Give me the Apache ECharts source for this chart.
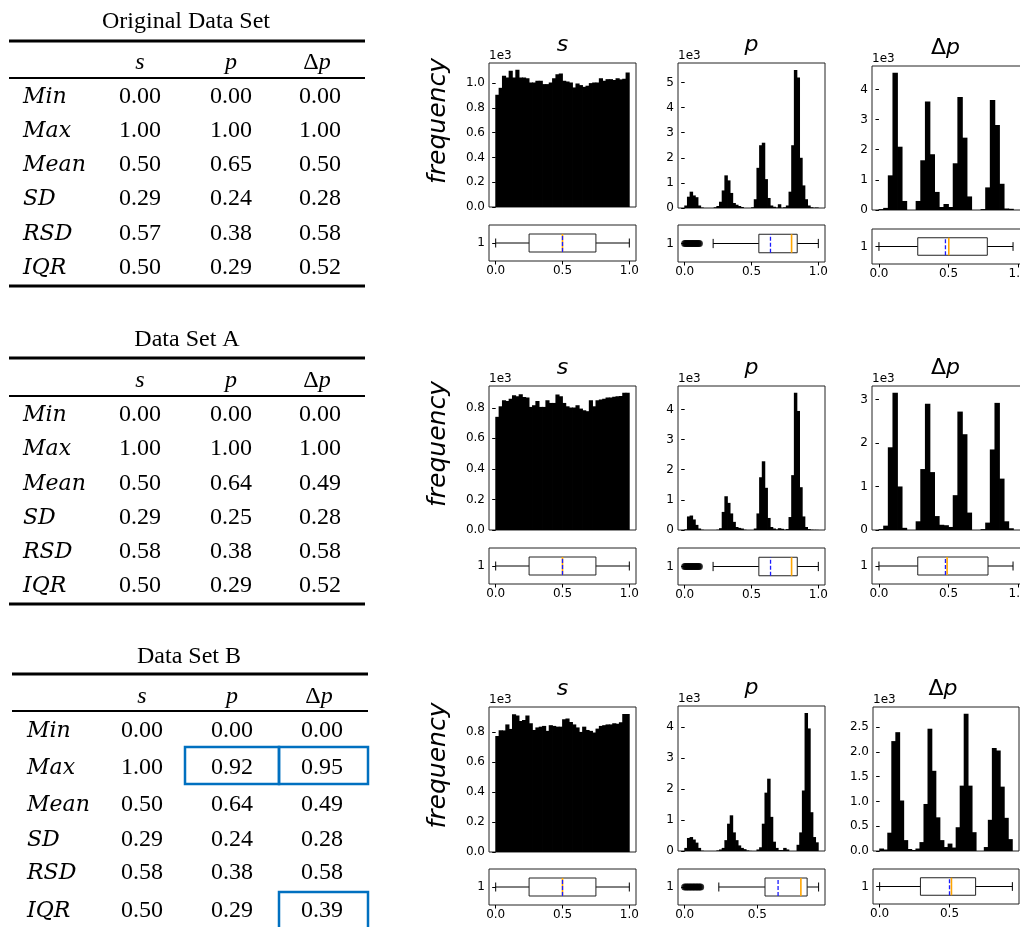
<!DOCTYPE html>
<html>
<head>
<meta charset="utf-8">
<script src="https://cdn.jsdelivr.net/npm/echarts@6/dist/echarts.min.js"></script>
<style>
  html, body { margin: 0; padding: 0; background: #fff; }
  #main { width: 1020px; height: 927px; }
</style>
</head>
<body>
<div id="main"></div>
<script>
// ---- histogram counts ----
// s : 40 bins over [0, 1]
var sOrig = [906, 962, 1059, 1046, 1099, 1046, 1107, 1046, 1046, 1040, 1005, 1005, 1019, 1019, 992, 992, 1005, 1040, 1072, 1078,
             1019, 1013, 1005, 965, 997, 984, 970, 979, 1000, 1005, 1005, 1040, 1019, 1032, 1032, 1025, 1040, 1030, 1035, 1086];
var sA = [741, 810, 850, 845, 860, 882, 876, 889, 871, 867, 806, 817, 845, 806, 806, 850, 832, 832, 887, 876,
          832, 810, 802, 802, 817, 795, 784, 778, 850, 810, 850, 854, 860, 867, 867, 872, 876, 878, 898, 898];
var sB = [773, 811, 810, 850, 820, 917, 910, 873, 880, 910, 857, 813, 830, 835, 840, 807, 845, 840, 835, 835,
          884, 890, 866, 850, 830, 800, 835, 813, 807, 796, 822, 840, 845, 850, 850, 857, 855, 865, 920, 920];
// p : 50 bins
var pOrig = [100, 450, 650, 500, 430, 100, 20, 0, 0, 0, 0, 30, 80, 250, 700, 1300, 1100, 600, 200, 130,
             80, 40, 0, 0, 0, 30, 350, 1600, 2500, 2600, 1150, 400, 100, 50, 20, 150, 10, 30, 100, 650,
             2500, 5500, 5200, 2000, 900, 350, 100, 30, 10, 20];
var pA = [20, 450, 480, 350, 170, 50, 10, 0, 0, 0, 0, 0, 10, 60, 600, 1120, 900, 550, 270, 100,
          70, 50, 10, 0, 0, 0, 50, 550, 1750, 2280, 1400, 400, 100, 50, 20, 60, 40, 10, 30, 430,
          1820, 4550, 3950, 1420, 450, 100, 30, 10, 5, 5];
var pB = [100, 420, 450, 370, 270, 100, 10, 0, 0, 0, 0, 0, 20, 50, 100, 350, 880, 1150, 600, 350,
          180, 100, 60, 20, 5, 0, 0, 50, 120, 880, 1880, 2330, 1100, 300, 100, 30, 30, 100, 50, 0,
          0, 0, 200, 600, 1950, 4450, 3950, 1250, 450, 280];
// Δp : 30 bins (orig, A), 33 bins (B)
var dOrig = [30, 70, 1150, 4550, 2100, 300, 0, 0, 300, 1650, 3600, 1850, 600, 100, 200,
             100, 1550, 3750, 2400, 450, 0, 0, 30, 750, 3650, 2820, 870, 50, 40, 0];
var dA = [20, 100, 1900, 3150, 1000, 50, 0, 0, 200, 1400, 2900, 1330, 320, 120, 110,
          70, 800, 2720, 2200, 400, 0, 0, 20, 170, 1850, 2920, 1180, 200, 40, 0];
var dB = [50, 30, 370, 2220, 2400, 1020, 220, 40, 20, 50, 180, 950, 2470, 1620, 680, 220, 80,
          150, 70, 480, 1320, 2770, 1320, 380, 0, 0, 80, 630, 2080, 2030, 1300, 670, 240];

// histogram data range per panel
var rangeFull = [0, 1];
var rangePB = [0, 0.92];
var rangeDB = [0, 0.95];

// ---- box plots: [whisker low, q1, median, q3, whisker high], mean ----
var boxSOrig = [0, 0.25, 0.50, 0.75, 1.0], meanSOrig = 0.50;
var boxPOrig = [0.213, 0.555, 0.80, 0.842, 1.0], meanPOrig = 0.642;
var boxDOrig = [0, 0.279, 0.502, 0.779, 0.964], meanDOrig = 0.478;
var boxSA = [0, 0.25, 0.50, 0.75, 1.0], meanSA = 0.50;
var boxPA = [0.2125, 0.555, 0.80, 0.8425, 1.0], meanPA = 0.6425;
var boxDA = [0, 0.279, 0.490, 0.784, 0.964], meanDA = 0.478;
var boxSB = [0, 0.25, 0.50, 0.75, 1.0], meanSB = 0.50;
var boxPB = [0.235, 0.553, 0.80, 0.843, 0.922], meanPB = 0.643;
var boxDB = [0, 0.292, 0.514, 0.687, 0.95], meanDB = 0.50;
var fliersP = [0, 0.01, 0.02, 0.03, 0.04, 0.05, 0.06, 0.07, 0.08, 0.09, 0.10, 0.11];

// ---- tick labels ----
var ticksS1 = [0, 200, 400, 600, 800, 1000];
var ticksS2 = [0, 200, 400, 600, 800];
var ticksP1 = [0, 1000, 2000, 3000, 4000, 5000];
var ticksP2 = [0, 1000, 2000, 3000, 4000];
var ticksD1 = [0, 1000, 2000, 3000, 4000];
var ticksD2 = [0, 1000, 2000, 3000];
var ticksD3 = [0, 500, 1000, 1500, 2000, 2500];
var boxTicks = [0, 0.5, 1.0];

// ---- tables ----
var statNames = ['Min', 'Max', 'Mean', 'SD', 'RSD', 'IQR'];
var origS = [0.00, 1.00, 0.50, 0.29, 0.57, 0.50];
var origP = [0.00, 1.00, 0.65, 0.24, 0.38, 0.29];
var origD = [0.00, 1.00, 0.50, 0.28, 0.58, 0.52];
var setAS = [0.00, 1.00, 0.50, 0.29, 0.58, 0.50];
var setAP = [0.00, 1.00, 0.64, 0.25, 0.38, 0.29];
var setAD = [0.00, 1.00, 0.49, 0.28, 0.58, 0.52];
var setBS = [0.00, 1.00, 0.50, 0.29, 0.58, 0.50];
var setBP = [0.00, 0.92, 0.64, 0.24, 0.38, 0.29];
var setBD = [0.00, 0.95, 0.49, 0.28, 0.58, 0.39];

var panels = [
  { counts: sOrig, range: rangeFull, ticks: ticksS1, dec: 1, box: boxSOrig, mean: meanSOrig, title: 's',
    L: 489, W: 147, hT: 63, hB: 207, bT: 225, bB: 261 },
  { counts: pOrig, range: rangeFull, ticks: ticksP1, dec: 0, box: boxPOrig, mean: meanPOrig, fliers: fliersP, title: 'p',
    L: 678, W: 147, hT: 63, hB: 208, bT: 225, bB: 262 },
  { counts: dOrig, range: rangeFull, ticks: ticksD1, dec: 0, box: boxDOrig, mean: meanDOrig, title: 'Δp',
    L: 872, W: 153, hT: 66, hB: 210, bT: 229, bB: 264 },
  { counts: sA, range: rangeFull, ticks: ticksS2, dec: 1, box: boxSA, mean: meanSA, title: 's',
    L: 489, W: 147, hT: 386, hB: 530, bT: 548, bB: 584 },
  { counts: pA, range: rangeFull, ticks: ticksP2, dec: 0, box: boxPA, mean: meanPA, fliers: fliersP, title: 'p',
    L: 678, W: 147, hT: 386, hB: 530, bT: 548, bB: 585 },
  { counts: dA, range: rangeFull, ticks: ticksD2, dec: 0, box: boxDA, mean: meanDA, title: 'Δp',
    L: 872, W: 153, hT: 386, hB: 530, bT: 548, bB: 584 },
  { counts: sB, range: rangeFull, ticks: ticksS2, dec: 1, box: boxSB, mean: meanSB, title: 's',
    L: 489, W: 147, hT: 707, hB: 852, bT: 869, bB: 905 },
  { counts: pB, range: rangePB, ticks: ticksP2, dec: 0, box: boxPB, mean: meanPB, fliers: fliersP, title: 'p',
    L: 678, W: 147, hT: 706, hB: 851, bT: 869, bB: 905 },
  { counts: dB, range: rangeDB, ticks: ticksD3, dec: 1, box: boxDB, mean: meanDB, title: 'Δp',
    L: 873, W: 146, hT: 707, hB: 851, bT: 869, bB: 904 }
];

var tables = [
  { title: 'Original Data Set', cols: [origS, origP, origD], cx: 186, titleY: 22, x0: 9, x1: 365, topRule: 41,
    headY: 63, thinRule: 78, rowY: [97, 131, 165, 199, 234, 268], bottomRule: 286, labelX: 23, colX: [140, 231, 320] },
  { title: 'Data Set A', cols: [setAS, setAP, setAD], cx: 187, titleY: 340, x0: 9, x1: 365, topRule: 358,
    headY: 381, thinRule: 396, rowY: [415, 449, 484, 518, 552, 586], bottomRule: 604, labelX: 23, colX: [140, 231, 320] },
  { title: 'Data Set B', cols: [setBS, setBP, setBD], cx: 189, titleY: 657, x0: 12, x1: 368, topRule: 674,
    headY: 697, thinRule: 711, rowY: [731, 768, 805, 840, 873, 911], bottomRule: null, labelX: 27, colX: [142, 232, 322] }
];
// highlighted cells in Data Set B (blue frames)
var highlights = [[185, 747, 94, 37], [279, 747, 89, 37], [279, 892, 89, 40]];

var sans = 'DejaVu Sans';
var serif = 'Liberation Serif';
var chart = echarts.init(document.getElementById('main'), null, { renderer: 'canvas' });

function histItem(params, api) {
  var a = api.coord([api.value(0), api.value(2)]);
  var b = api.coord([api.value(1), 0]);
  // widen a little so neighbouring bars merge without hairline gaps
  return {
    type: 'rect',
    shape: { x: a[0] - 0.4, y: a[1], width: b[0] - a[0] + 0.8, height: b[1] - a[1] },
    style: { fill: '#000' }
  };
}

function boxItem(params, api) {
  var lo = api.value(0), q1 = api.value(1), med = api.value(2), q3 = api.value(3), hi = api.value(4), mean = api.value(5);
  function P(x, y) { return api.coord([x, y]); }
  function seg(x1, y1, x2, y2, color, lw, dash) {
    var a = P(x1, y1), b = P(x2, y2);
    return { type: 'line', shape: { x1: a[0], y1: a[1], x2: b[0], y2: b[1] },
      style: { stroke: color, lineWidth: lw, lineDash: dash || null } };
  }
  var tl = P(q1, 1.25), br = P(q3, 0.75);
  return {
    type: 'group',
    children: [
      seg(lo, 1, q1, 1, '#000', 1),
      seg(q3, 1, hi, 1, '#000', 1),
      seg(lo, 0.875, lo, 1.125, '#000', 1),
      seg(hi, 0.875, hi, 1.125, '#000', 1),
      { type: 'rect', shape: { x: tl[0], y: tl[1], width: br[0] - tl[0], height: br[1] - tl[1] },
        style: { fill: 'none', stroke: '#222', lineWidth: 1 } },
      seg(med, 0.75, med, 1.25, '#ffa500', 1.6),
      seg(mean, 0.75, mean, 1.25, '#1a1aff', 1.3, [4, 2])
    ]
  };
}

// Δ upright, p italic (math style)
function mathText(txt, size, family) {
  var up = size + 'px ' + family, it = 'italic ' + size + 'px ' + family;
  if (txt === 'Δp') return { text: '{u|Δ}{i|p}', rich: { u: { font: up }, i: { font: it } } };
  return { text: '{i|' + txt + '}', rich: { i: { font: it } } };
}

var grids = [], xAxes = [], yAxes = [], series = [], graphics = [];
var labelStyle = { color: '#000', fontFamily: sans, fontSize: 12 };

panels.forEach(function (pn, i) {
  var lo = pn.range[0], hi = pn.range[1], pad = 0.05 * (hi - lo);
  var xmin = lo - pad, xmax = hi + pad;
  var n = pn.counts.length, w = (hi - lo) / n;
  var ymax = 1.05 * Math.max.apply(null, pn.counts);
  var hg = 2 * i, bg = 2 * i + 1;
  var xt = boxTicks.filter(function (t) { return t <= xmax; });

  grids.push({ left: pn.L, top: pn.hT, width: pn.W, height: pn.hB - pn.hT, show: true, borderColor: '#222',
    borderWidth: 1, backgroundColor: 'transparent', containLabel: false, outerBoundsMode: 'none' });
  grids.push({ left: pn.L, top: pn.bT, width: pn.W, height: pn.bB - pn.bT, show: true, borderColor: '#222',
    borderWidth: 1, backgroundColor: 'transparent', containLabel: false, outerBoundsMode: 'none' });

  xAxes.push({ type: 'value', gridIndex: hg, min: xmin, max: xmax, axisLine: { show: false },
    axisTick: { show: false }, axisLabel: { show: false }, splitLine: { show: false } });
  xAxes.push({ type: 'value', gridIndex: bg, min: xmin, max: xmax, axisLine: { show: false },
    axisTick: { show: true, length: 3.5, lineStyle: { color: '#000' }, customValues: xt },
    axisLabel: Object.assign({ margin: 4, formatter: function (v) { return v.toFixed(1); }, customValues: xt }, labelStyle),
    splitLine: { show: false } });

  var dec = pn.dec;
  yAxes.push({ type: 'value', gridIndex: hg, min: 0, max: ymax, axisLine: { show: false },
    axisTick: { show: true, length: 3.5, lineStyle: { color: '#000' }, customValues: pn.ticks },
    axisLabel: Object.assign({ margin: 4, customValues: pn.ticks,
      formatter: function (v) { return (v / 1000).toFixed(dec); } }, labelStyle),
    splitLine: { show: false } });
  yAxes.push({ type: 'value', gridIndex: bg, min: 0.5, max: 1.5, axisLine: { show: false },
    axisTick: { show: true, length: 3.5, lineStyle: { color: '#000' }, customValues: [1] },
    axisLabel: Object.assign({ margin: 4, customValues: [1], formatter: '{value}' }, labelStyle),
    splitLine: { show: false } });

  var bins = [];
  pn.counts.forEach(function (c, k) {
    if (c > 0) bins.push([lo + k * w, lo + (k + 1) * w, c]);
  });
  series.push({ type: 'custom', xAxisIndex: hg, yAxisIndex: hg, renderItem: histItem,
    encode: { x: [0, 1], y: 2 }, data: bins, silent: true });

  if (pn.fliers) {
    series.push({ type: 'scatter', xAxisIndex: bg, yAxisIndex: bg, symbol: 'circle', symbolSize: 7,
      itemStyle: { color: '#000' }, silent: true,
      data: pn.fliers.map(function (f) { return [f, 1]; }) });
  }
  series.push({ type: 'custom', xAxisIndex: bg, yAxisIndex: bg, renderItem: boxItem,
    encode: { x: [0, 4], y: 6 }, silent: true,
    data: [pn.box.concat([pn.mean, 1])] });

  // panel title, offset text, y label
  graphics.push({ type: 'text', x: pn.L + pn.W / 2 + (pn.title === 'Δp' ? -3 : 0), y: pn.hT - 18,
    style: Object.assign({ fill: '#000', align: 'center', verticalAlign: 'middle' }, mathText(pn.title, 22, sans)) });
  graphics.push({ type: 'text', x: pn.L, y: pn.hT - 7,
    style: { text: '1e3', font: '12px ' + sans, fill: '#000', align: 'left', verticalAlign: 'middle' } });
  if (i % 3 === 0) {
    graphics.push({ type: 'text', x: 438, y: (pn.hT + pn.hB) / 2 - 14, rotation: Math.PI / 2,
      style: { text: 'frequency', font: 'italic 25px ' + sans, fill: '#000', align: 'center', verticalAlign: 'middle' } });
  }
});

// tables
var mathFont = 'italic 22px "DejaVu Serif"';
var colNames = ['s', 'p', 'Δp'];
tables.forEach(function (t) {
  graphics.push({ type: 'text', x: t.cx, y: t.titleY,
    style: { text: t.title, font: '24px "' + serif + '"', fill: '#000', align: 'center', verticalAlign: 'middle' } });
  graphics.push({ type: 'line', shape: { x1: t.x0, y1: t.topRule, x2: t.x1, y2: t.topRule }, style: { stroke: '#000', lineWidth: 3.2 } });
  graphics.push({ type: 'line', shape: { x1: t.x0, y1: t.thinRule, x2: t.x1, y2: t.thinRule }, style: { stroke: '#000', lineWidth: 1.8 } });
  if (t.bottomRule) {
    graphics.push({ type: 'line', shape: { x1: t.x0, y1: t.bottomRule, x2: t.x1, y2: t.bottomRule }, style: { stroke: '#000', lineWidth: 3.2 } });
  }
  colNames.forEach(function (c, j) {
    graphics.push({ type: 'text', x: t.colX[j] - (j === 2 ? 3 : 0), y: t.headY,
      style: Object.assign({ fill: '#000', align: 'center', verticalAlign: 'middle' },
        mathText(c, 24, '"' + serif + '"')) });
  });
  statNames.forEach(function (name, r) {
    graphics.push({ type: 'text', x: t.labelX, y: t.rowY[r],
      style: { text: name, font: mathFont, fill: '#000', align: 'left', verticalAlign: 'middle' } });
    t.cols.forEach(function (col, j) {
      graphics.push({ type: 'text', x: t.colX[j], y: t.rowY[r],
        style: { text: col[r].toFixed(2), font: '24px "' + serif + '"', fill: '#000', align: 'center', verticalAlign: 'middle' } });
    });
  });
});
highlights.forEach(function (h) {
  graphics.push({ type: 'rect', shape: { x: h[0], y: h[1], width: h[2], height: h[3] },
    style: { fill: 'none', stroke: '#0070c0', lineWidth: 2.5 } });
});

chart.setOption({
  animation: false,
  backgroundColor: '#fff',
  grid: grids,
  xAxis: xAxes,
  yAxis: yAxes,
  series: series,
  graphic: { elements: graphics }
});
</script>
</body>
</html>
